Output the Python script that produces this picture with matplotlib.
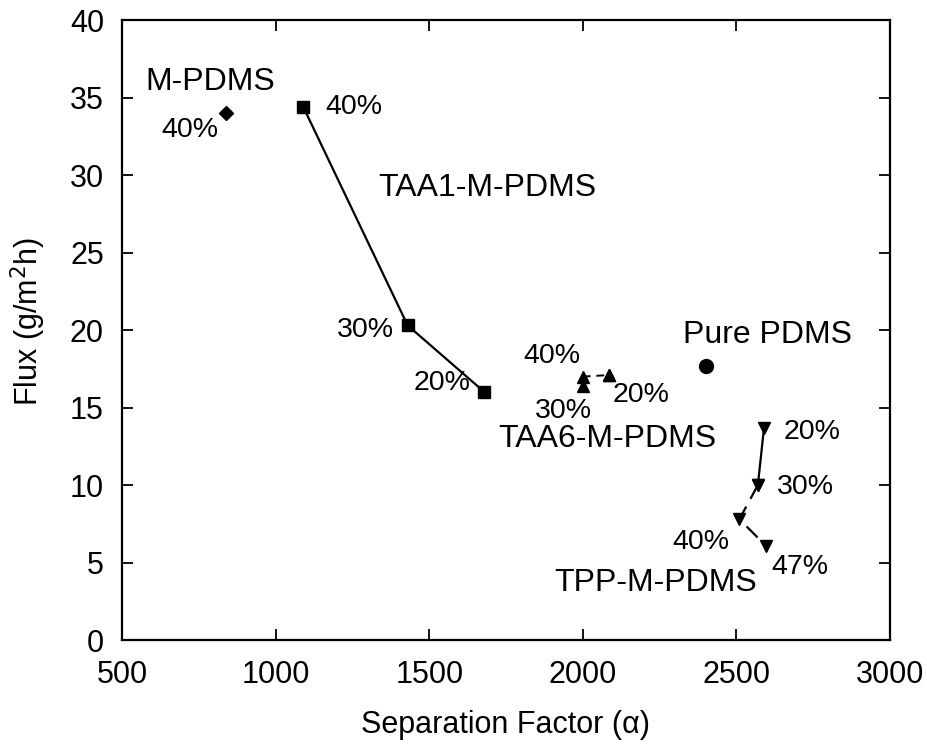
import matplotlib
matplotlib.use("Agg")
import matplotlib.pyplot as plt

plt.rcParams["font.family"] = ["Liberation Sans", "DejaVu Sans"]

# separation factor / flux for each membrane series
mpdms_x = [840]
mpdms_y = [34.0]

taa1_x = [1090, 1430, 1680]
taa1_y = [34.4, 20.3, 16.0]
taa1_pct = ["40%", "30%", "20%"]

taa6_x = [2000, 2000, 2085]
taa6_y = [17.0, 16.4, 17.1]
taa6_pct = ["40%", "30%", "20%"]

tpp_x = [2590, 2570, 2510, 2595]
tpp_y = [13.7, 10.0, 7.8, 6.1]
tpp_pct = ["20%", "30%", "40%", "47%"]

pure_x = [2400]
pure_y = [17.7]

fig = plt.figure(figsize=(9.28, 7.46), dpi=100)
ax = fig.add_axes([0.1315, 0.142, 0.8275, 0.831])

ax.plot(mpdms_x, mpdms_y, "kD", ms=7)
ax.plot(taa1_x, taa1_y, "k-s", ms=8, lw=1.6)
ax.plot(taa6_x[1:], taa6_y[1:], "k^", ms=8)
ax.plot([taa6_x[0], taa6_x[2]], [taa6_y[0], taa6_y[2]], "k^", ls=(0, (4, 3)), ms=8, lw=1.4)
ax.plot(tpp_x[:2], tpp_y[:2], "kv", ls="-", ms=8, lw=1.6)
ax.plot(tpp_x[1:], tpp_y[1:], "kv", ls=(0, (7, 4)), ms=8, lw=1.6)
ax.plot(pure_x, pure_y, "ko", ms=10)

fs = 20.5   # percent labels
ns = 23     # series names
ax.text(575, 36.0, "M-PDMS", fontsize=ns, va="center")
ax.text(721, 32.9, "40%", fontsize=fs, ha="center", va="center")

ax.text(1161, taa1_y[0], taa1_pct[0], fontsize=fs, va="center")
ax.text(1291, 20.0, taa1_pct[1], fontsize=fs, ha="center", va="center")
ax.text(1542, 16.6, taa1_pct[2], fontsize=fs, ha="center", va="center")
ax.text(1334, 29.2, "TAA1-M-PDMS", fontsize=ns, va="center")

ax.text(1900, 18.3, taa6_pct[0], fontsize=fs, ha="center", va="center")
ax.text(1936, 14.8, taa6_pct[1], fontsize=fs, ha="center", va="center")
ax.text(2190, 15.8, taa6_pct[2], fontsize=fs, ha="center", va="center")
ax.text(2080, 13.0, "TAA6-M-PDMS", fontsize=ns, ha="center", va="center")

ax.text(2327, 19.7, "Pure PDMS", fontsize=ns, va="center")

ax.text(2653, 13.4, tpp_pct[0], fontsize=fs, va="center")
ax.text(2633, 9.9, tpp_pct[1], fontsize=fs, va="center")
ax.text(2383, 6.3, tpp_pct[2], fontsize=fs, ha="center", va="center")
ax.text(2708, 4.7, tpp_pct[3], fontsize=fs, ha="center", va="center")
ax.text(2236, 3.7, "TPP-M-PDMS", fontsize=ns, ha="center", va="center")

ax.set_xlim(500, 3000)
ax.set_ylim(0, 40)
ax.set_xticks(range(500, 3001, 500))
ax.set_yticks(range(0, 41, 5))
ax.tick_params(direction="in", top=True, right=True, length=8, width=1.3,
               labelsize=22)
ax.tick_params(axis="x", pad=14)
ax.tick_params(axis="y", pad=13)
for s in ax.spines.values():
    s.set_linewidth(1.6)

ax.set_xlabel("Separation Factor (\u03b1)", fontsize=22, va="center")
ax.set_ylabel("Flux (g/m$^2$h)", fontsize=22, va="center")
ax.xaxis.set_label_coords(0.5, -0.137)
ax.yaxis.set_label_coords(-0.122, 0.514)

fig.savefig("out.png", dpi=100)
